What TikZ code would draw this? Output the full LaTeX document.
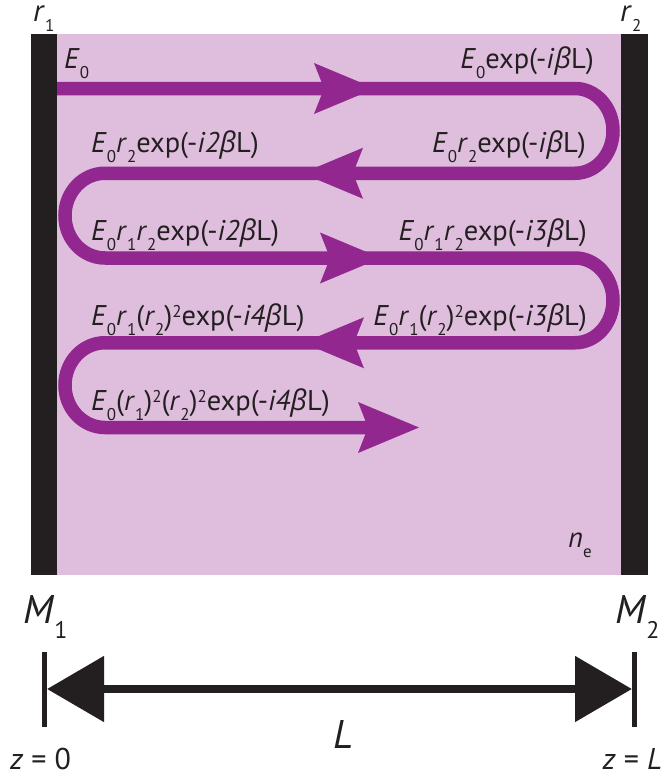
\documentclass[tikz,border=0pt]{standalone}
\usepackage{fontspec}
\setmainfont{PT Sans}
\newfontfamily\grk{Open Sans}
\usetikzlibrary{arrows.meta}
\definecolor{purp}{RGB}{146,39,143}
\definecolor{pinkbg}{RGB}{223,190,221}
\definecolor{ink}{RGB}{35,31,32}
\newcommand{\lo}[1]{\raisebox{-10pt}{\fontsize{17}{17}\selectfont #1}}
\newcommand{\hi}[1]{\raisebox{8pt}{\fontsize{17}{17}\selectfont #1}}
\newcommand{\bet}{{\grk\itshape β}}
\newcommand{\ex}[1]{exp(-\textit{i#1}\bet L)}
\begin{document}
\begin{tikzpicture}[x=1pt,y=1pt,
  beam/.style={draw=purp,line width=13.5pt},
  lab/.style={inner sep=0pt,text=ink,font=\fontsize{28.5}{28.5}\selectfont},
  big/.style={inner sep=0pt,text=ink,font=\fontsize{40}{40}\selectfont},
  mirror/.style={fill=ink},
  dim/.style={draw=ink,line width=8.5pt,{Triangle[length=57pt,width=64pt]}-{Triangle[length=57pt,width=64pt]}},
  headR/.pic={\fill[purp] (0,0) -- (-61,25.5) -- (-51,0) -- (-61,-25.5) -- cycle;}
]
\useasboundingbox (0,0) rectangle (664,-776);
\fill[white] (0,0) rectangle (664,-776);
% cavity
\fill[pinkbg] (57,-34) rectangle (621,-575);
\fill[mirror] (31,-34) rectangle (57,-575);
\fill[mirror] (621,-34) rectangle (648,-575);
% beam path
\draw[beam] (57,-88.5) -- (575,-88.5)
  arc[start angle=90,end angle=-90,x radius=38,y radius=42.375]
  -- (105,-173.25)
  arc[start angle=90,end angle=270,x radius=40,y radius=42.375]
  -- (575,-258)
  arc[start angle=90,end angle=-90,x radius=38,y radius=42.375]
  -- (105,-342.75)
  arc[start angle=90,end angle=270,x radius=40,y radius=42.375]
  -- (375,-427.5);
\pic at (375,-88.5) {headR};
\pic[rotate=180] at (302,-173.25) {headR};
\pic at (381,-258) {headR};
\pic[rotate=180] at (303,-342.75) {headR};
\pic at (419,-427.5) {headR};
% labels in cavity
\node[lab,anchor=base west] (r1) at (33,-22) {\fontsize{31}{31}\selectfont\textit{r}\lo{1}};
\node[lab,anchor=base west] (r2) at (620,-22) {\fontsize{31}{31}\selectfont\textit{r}\lo{2}};
\node[lab,anchor=base west] (a1) at (64,-68) {\textit{E}\lo{0}};
\node[lab,anchor=base east] (a2) at (594,-68) {\textit{E}\lo{0}\ex{}};
\node[lab,anchor=base east] (a3) at (586,-152) {\textit{E}\lo{0}\textit{r}\lo{2}\ex{}};
\node[lab,anchor=base west] (a4) at (91,-152) {\textit{E}\lo{0}\textit{r}\lo{2}\ex{2}};
\node[lab,anchor=base west] (a5) at (91,-240) {\textit{E}\lo{0}\textit{r}\lo{1}\textit{r}\lo{2}\ex{2}};
\node[lab,anchor=base east] (a6) at (587,-240) {\textit{E}\lo{0}\textit{r}\lo{1}\textit{r}\lo{2}\ex{3}};
\node[lab,anchor=base east] (a7) at (587,-325) {\textit{E}\lo{0}\textit{r}\lo{1}(\textit{r}\lo{2})\hi{2}\ex{3}};
\node[lab,anchor=base west] (a8) at (91,-325) {\textit{E}\lo{0}\textit{r}\lo{1}(\textit{r}\lo{2})\hi{2}\ex{4}};
\node[lab,anchor=base west] (a9) at (91,-410) {\textit{E}\lo{0}(\textit{r}\lo{1})\hi{2}(\textit{r}\lo{2})\hi{2}\ex{4}};
\node[lab,anchor=base west] (ne) at (568,-547) {\textit{n}\lo{e}};
% mirror labels
\node[big,anchor=base west] (m1) at (23,-623) {\textit{M}\raisebox{-15pt}{\fontsize{24}{24}\selectfont 1}};
\node[big,anchor=base west] (m2) at (615,-623) {\textit{M}\raisebox{-15pt}{\fontsize{24}{24}\selectfont 2}};
% length bar
\fill[ink] (42,-652) rectangle (47,-727);
\fill[ink] (632,-652) rectangle (637,-727);
\coordinate (z0) at (47,-689);
\coordinate (zL) at (632,-689);
\draw[dim] (z0) -- (zL);
\node[big,anchor=base west] (Lb) at (333,-748) {\textit{L}};
\node[lab,anchor=base west,font=\fontsize{30}{30}\selectfont] (zz0) at (10,-769) {\textit{z} = 0};
\node[lab,anchor=base east,font=\fontsize{30}{30}\selectfont] (zzL) at (662,-769) {\textit{z} = \textit{L}};
\end{tikzpicture}
\end{document}
